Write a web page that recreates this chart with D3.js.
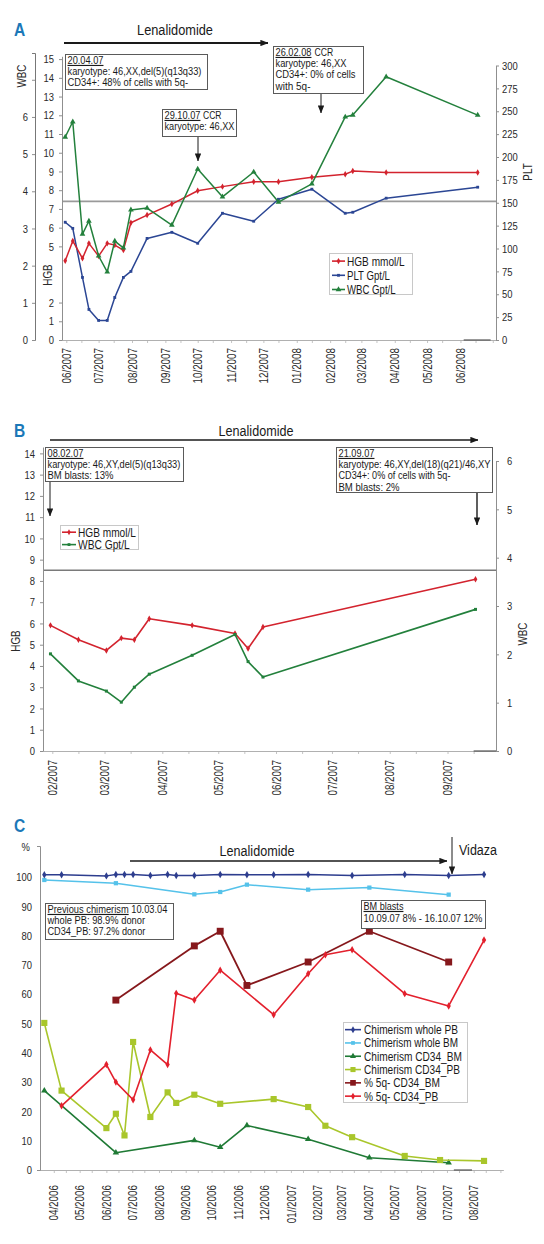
<!DOCTYPE html>
<html>
<head>
<meta charset="utf-8">
<script src="https://cdn.jsdelivr.net/npm/d3@7/dist/d3.min.js"></script>
<style>
html,body{margin:0;padding:0;background:#fff;}
text{font-family:'Liberation Sans',Arial,sans-serif;}
</style>
</head>
<body>
<svg id="chart" width="544" height="1244" xmlns="http://www.w3.org/2000/svg"></svg>
<script>
// ================= Panel A data =================
const aDates = ["2007-05-31","2007-06-07","2007-06-16","2007-06-22","2007-07-01","2007-07-09","2007-07-16","2007-07-24","2007-07-31","2007-08-15","2007-09-07","2007-10-01","2007-10-24","2007-11-22","2007-12-15","2008-01-15","2008-02-15","2008-02-22","2008-03-24","2008-06-17"];
const aHGB = [4.23,5.29,4.36,5.16,4.48,5.16,5.07,4.8,6.26,6.67,7.26,7.97,8.19,8.45,8.45,8.69,8.85,9.02,8.95,8.95];
const aPLT = [128.7,122,68.4,33.4,21.4,21.4,46.5,68.4,75,111,117.7,105.7,138.5,129.8,153.8,164.8,138.5,139.6,155,167];
const aWBC = [5.46,5.87,2.85,3.2,2.26,1.83,2.66,2.48,3.5,3.55,3.09,4.6,3.85,4.52,3.71,4.2,6.0,6.05,7.08,6.05];
const aTickDates = ["2007-06-01","2007-07-01","2007-08-01","2007-09-01","2007-10-01","2007-11-01","2007-12-01","2008-01-01","2008-02-01","2008-03-01","2008-04-01","2008-05-01","2008-06-01"];
const aTickLabels = ["06/2007","07/2007","08/2007","09/2007","10/2007","11/2007","12/2007","01/2008","02/2008","03/2008","04/2008","05/2008","06/2008"];
const aWBCTicks = [0,1,2,3,4,5,6,7];
const aWBCTickLabels = ["0","1","2","3","4","5","6",""];
const aHGBTicks = [0,1,2,5,6,7,8,9,10,11,12,13,14,15];
const aPLTTicks = [0,25,50,75,100,125,150,175,200,225,250,275,300];
const aRefPLT = 151.5;
const aSeriesNames = ["HGB mmol/L","PLT Gpt/L","WBC Gpt/L"];

// ================= Panel B data =================
const bDates = ["2007-01-31","2007-02-15","2007-03-02","2007-03-10","2007-03-17","2007-03-25","2007-04-17","2007-05-10","2007-05-17","2007-05-25","2007-09-16"];
const bHGB = [5.91,5.23,4.73,5.31,5.23,6.22,5.91,5.53,4.82,5.83,8.08];
const bWBC = [2.01,1.45,1.24,1.01,1.32,1.59,1.98,2.41,1.85,1.53,2.93];
const bTickDates = ["2007-02-01","2007-03-01","2007-04-01","2007-05-01","2007-06-01","2007-07-01","2007-08-01","2007-09-01"];
const bTickLabels = ["02/2007","03/2007","04/2007","05/2007","06/2007","07/2007","08/2007","09/2007"];
const bHGBTicks = [0,1,2,3,4,5,6,7,8,9,10,11,12,13,14];
const bWBCTicks = [0,1,2,3,4,5,6];
const bRefHGB = 8.5;
const bSeriesNames = ["HGB mmol/L","WBC Gpt/L"];

// ================= Panel C data =================
const cWholePBDates = ["2006-03-21","2006-04-10","2006-06-01","2006-06-12","2006-06-22","2006-07-02","2006-07-22","2006-08-11","2006-08-21","2006-09-11","2006-10-11","2006-11-11","2006-12-12","2007-01-21","2007-03-13","2007-05-13","2007-07-03","2007-08-13"];
const cWholePB = [100.8,100.8,100.4,100.9,100.9,100.9,100.5,100.9,100.5,100.5,100.9,100.8,100.8,100.9,100.5,100.9,100.5,100.9];
const cWholeBMDates = ["2006-03-21","2006-06-12","2006-09-11","2006-10-11","2006-11-11","2007-01-21","2007-04-02","2007-07-03"];
const cWholeBM = [99.0,97.9,94.1,94.9,97.4,95.7,96.4,94.0];
const cCD34BMDates = ["2006-03-21","2006-06-12","2006-09-11","2006-10-11","2006-11-11","2007-01-21","2007-04-02","2007-07-03"];
const cCD34BM = [27.1,5.9,10.1,7.8,15.2,10.5,4.2,2.5];
const cCD34PBDates = ["2006-03-21","2006-04-10","2006-06-01","2006-06-12","2006-06-22","2006-07-02","2006-07-22","2006-08-11","2006-08-21","2006-09-11","2006-10-11","2006-12-12","2007-01-21","2007-02-10","2007-03-13","2007-05-13","2007-06-23","2007-08-13"];
const cCD34PB = [50.2,27.1,14.3,19.2,11.8,43.7,18.1,26.5,22.9,25.7,22.6,24.2,21.5,15.1,11.2,4.8,3.4,3.1];
const c5qBMDates = ["2006-06-12","2006-09-11","2006-10-11","2006-11-11","2007-01-21","2007-04-02","2007-07-03"];
const c5qBM = [58,76.5,81.5,63,71,81.5,71];
const c5qPBDates = ["2006-04-10","2006-06-01","2006-06-12","2006-07-02","2006-07-22","2006-08-11","2006-08-21","2006-09-11","2006-10-11","2006-12-12","2007-01-21","2007-02-10","2007-03-13","2007-05-13","2007-07-03","2007-08-13"];
const c5qPB = [21.9,36,30,24,41,36,60.3,58,68.2,53,67,73.5,75.2,60.2,56,78.5];
const cTickDates = ["2006-04-01","2006-05-01","2006-06-01","2006-07-01","2006-08-01","2006-09-01","2006-10-01","2006-11-01","2006-12-01","2007-01-01","2007-02-01","2007-03-01","2007-04-01","2007-05-01","2007-06-01","2007-07-01","2007-08-01"];
const cTickLabels = ["04/2006","05/2006","06/2006","07/2006","08/2006","09/2006","10/2006","11/2006","12/2006","01//2007","02/2007","03/2007","04/2007","05/2007","06/2007","07/2007","08/2007"];
const cYTicks = [0,10,20,30,40,50,60,70,80,90,100];
const cSeriesNames = ["Chimerism whole PB","Chimerism whole BM","Chimerism CD34_BM","Chimerism CD34_PB","% 5q- CD34_BM","% 5q- CD34_PB"];

// ================= helpers =================
const SX = 0.82;               // horizontal condensing of the sans font
const AX = "#8f8f8f";
const TXT = "#2a2a2a";
const parse = d3.utcParse("%Y-%m-%d");
const svg = d3.select("#chart");

const defs = svg.append("defs");
defs.append("marker").attr("id","arr").attr("viewBox","0 0 10 8").attr("refX",9.5).attr("refY",4)
  .attr("markerWidth",8).attr("markerHeight",6.4).attr("markerUnits","userSpaceOnUse").attr("orient","auto")
  .append("path").attr("d","M0,0L10,4L0,8z").attr("fill","#1a1a1a");

function condense(sel) {
  sel.each(function () {
    const t = d3.select(this);
    const x = +t.attr("x") || 0;
    const tr = t.attr("transform") || "";
    t.attr("x", x / SX).attr("transform", (tr + ` scale(${SX},1)`).trim());
  });
}

// place a text so that its rendered width is len (true horizontal scaling of the glyphs)
function txt(parent, x, y, s, fs, anchor, rot, len) {
  const t = parent.append("text").attr("text-anchor", anchor || "start")
    .style("font-size", fs + "px").attr("fill", "#1a1a1a").text(s);
  let k = SX;
  if (len) {
    const w = t.node().getComputedTextLength();
    if (w > 0) k = len / w;
  }
  t.attr("transform", `translate(${x},${y})${rot ? " rotate(" + rot + ")" : ""} scale(${k},1)`);
  return t;
}

function styleAxis(g, fs) {
  g.attr("font-family", null).attr("font-size", null);
  g.select(".domain").attr("stroke", AX);
  g.selectAll(".tick line").attr("stroke", AX);
  g.selectAll(".tick text").attr("fill", TXT).style("font-size", fs + "px");
}

function dateAxis(x, yPos, tickDates, labels, gap, darkFrom, darkTo) {
  const [d0, d1] = x.domain();
  const minor = d3.utcDay.range(d0, d1).filter(d => d.getUTCDate() === 1 || d.getUTCDate() === 15);
  const gm = svg.append("g").attr("transform", `translate(0,${yPos})`)
    .call(d3.axisBottom(x).tickValues(minor).tickFormat("").tickSize(3).tickSizeOuter(0));
  styleAxis(gm, 12);
  gm.selectAll(".tick line").attr("stroke", "#c4c4c4");
  const g = svg.append("g").attr("transform", `translate(0,${yPos})`)
    .call(d3.axisBottom(x).tickValues(tickDates.map(parse)).tickFormat((d, i) => labels[i]).tickSize(0).tickSizeOuter(0));
  styleAxis(g, 12);
  g.select(".domain").attr("stroke", "#b0b0b0");
  g.selectAll(".tick text").attr("transform", "rotate(-90)").attr("text-anchor", "end")
    .attr("x", -gap).attr("y", 0).attr("dy", "0.35em");
  condense(g.selectAll(".tick text"));
  g.append("line").attr("x1", x(parse(darkFrom))).attr("x2", x(parse(darkTo))).attr("y1", 0).attr("y2", 0)
    .attr("stroke", "#555").attr("stroke-width", 1.2);
}

function series(x, y, dates, vals, color, sym, size, w) {
  const pts = dates.map((d, i) => [parse(d), vals[i]]);
  const g = svg.append("g");
  g.append("path").datum(pts).attr("fill", "none").attr("stroke", color).attr("stroke-width", w)
    .attr("stroke-linejoin", "round").attr("d", d3.line().x(p => x(p[0])).y(p => y(p[1])));
  g.append("g").selectAll("path").data(pts).join("path")
    .attr("transform", p => `translate(${x(p[0])},${y(p[1])})`)
    .attr("d", d3.symbol().type(sym).size(size)).attr("fill", color);
}

// lines: array of lines; each line is an array of [text, underline, width, dx]
function noteBox(x, y, w, h, lines, fs, lh) {
  const g = svg.append("g");
  g.append("rect").attr("x", x + 0.5).attr("y", y + 0.5).attr("width", w).attr("height", h)
    .attr("fill", "#fff").attr("stroke", "#5a5a5a").attr("stroke-width", 1);
  lines.forEach((ln, i) => {
    ln.forEach(([s, u, len, dx]) => {
      txt(g, x + 2.5 + dx, y + 9.8 + i * lh, s, fs, "start", 0, len)
        .style("text-decoration", u ? "underline" : "none");
    });
  });
}

function arrow(x1, y1, x2, y2, w) {
  svg.append("line").attr("x1", x1).attr("y1", y1).attr("x2", x2).attr("y2", y2)
    .attr("stroke", "#1a1a1a").attr("stroke-width", w).attr("marker-end", "url(#arr)");
}

function vlabel(x, y, s, fs) {
  txt(svg, x, y, s, fs, "middle", -90).attr("dy", "0.35em").attr("fill", TXT);
}

function panelLetter(x, y, s) {
  txt(svg, x, y, s, 19, "start").style("font-weight", "bold").attr("fill", "#1b78b8");
}

function legend(x, y, w, h, names, lens, colors, syms, sizes, fs, lh, sx1, sx2, tx) {
  const g = svg.append("g");
  g.append("rect").attr("x", x + 0.5).attr("y", y + 0.5).attr("width", w).attr("height", h)
    .attr("fill", "#fff").attr("stroke", "#c8c8c8");
  names.forEach((n, i) => {
    const yy = y + lh * 0.5 + 1 + i * lh;
    g.append("line").attr("x1", x + sx1).attr("x2", x + sx2).attr("y1", yy).attr("y2", yy)
      .attr("stroke", colors[i]).attr("stroke-width", 1.6);
    g.append("path").attr("transform", `translate(${x + (sx1 + sx2) / 2},${yy})`)
      .attr("d", d3.symbol().type(syms[i]).size(sizes[i])).attr("fill", colors[i]);
    txt(g, x + tx, yy, n, fs, "start", 0, lens[i]).attr("dy", "0.35em");
  });
}

// ================= PANEL A =================
const colHGB = "#d3232e", colPLT = "#2b4694", colWBC = "#23803c";
const xA = d3.scaleUtc().domain([parse("2007-05-28"), parse("2008-07-04")]).range([62, 496]);
const yAW = d3.scaleLinear().domain([0, 7.72]).range([340, 53]);
const yAH = d3.scaleLinear().domain([0, 15.15]).range([340, 56.3]);
const yAP = d3.scaleLinear().domain([0, 300]).range([340, 65.5]);

panelLetter(14, 36, "A");
txt(svg, 175, 35, "Lenalidomide", 15, "middle", 0, 76);
arrow(64, 43, 268, 43, 1.8);

svg.append("line").attr("x1", 62).attr("x2", 496).attr("y1", yAP(aRefPLT)).attr("y2", yAP(aRefPLT))
  .attr("stroke", "#9a9a9a").attr("stroke-width", 1.6);

dateAxis(xA, 340, aTickDates, aTickLabels, 8, "2008-06-04", "2008-06-29");

let g = svg.append("g").attr("transform", "translate(35,0)")
  .call(d3.axisLeft(yAW).tickValues(aWBCTicks).tickFormat((d, i) => aWBCTickLabels[i]).tickSize(3).tickSizeOuter(3).tickPadding(4));
styleAxis(g, 11.5); condense(g.selectAll(".tick text"));
g.select(".domain").attr("stroke", "#777");
g = svg.append("g").attr("transform", "translate(62,0)")
  .call(d3.axisLeft(yAH).tickValues(aHGBTicks).tickFormat(d3.format("d")).tickSize(3).tickSizeOuter(0).tickPadding(5));
styleAxis(g, 11.5); condense(g.selectAll(".tick text"));
g = svg.append("g").attr("transform", "translate(496,0)")
  .call(d3.axisRight(yAP).tickValues(aPLTTicks).tickFormat(d3.format("d")).tickSize(3).tickSizeOuter(0).tickPadding(3));
styleAxis(g, 11.5); condense(g.selectAll(".tick text"));

vlabel(22, 76, "WBC", 12);
vlabel(48, 275, "HGB", 12);
vlabel(528, 172, "PLT", 12);

series(xA, yAP, aDates, aPLT, colPLT, d3.symbolSquare, 8, 1.5);
series(xA, yAH, aDates, aHGB, colHGB, d3.symbolDiamond, 12, 1.5);
series(xA, yAW, aDates, aWBC, colWBC, d3.symbolTriangle, 14, 1.5);

noteBox(65, 54, 142, 35, [
  [["20.04.07", 1, 36, 0]],
  [["karyotype: 46,XX,del(5)(q13q33)", 0, 134, 0]],
  [["CD34+: 48% of cells with 5q-", 0, 120.7, 0]]], 11.3, 11.3);
noteBox(162, 109, 74, 27, [
  [["29.10.07", 1, 36, 0], ["CCR", 0, 18.5, 38.5]],
  [["karyotype: 46,XX", 0, 70, 0]]], 11.3, 11.3);
noteBox(273, 46, 90, 47, [
  [["26.02.08", 1, 36, 0], ["CCR", 0, 18.7, 39]],
  [["karyotype: 46,XX", 0, 71, 0]],
  [["CD34+: 0% of cells", 0, 80, 0]],
  [["with 5q-", 0, 35, 0]]], 11.3, 11.3);
arrow(198, 137, 198, 161, 1);
arrow(321, 94, 321, 113, 1);

legend(329, 253, 83, 41, aSeriesNames, [57.7, 43, 48.7], [colHGB, colPLT, colWBC],
  [d3.symbolDiamond, d3.symbolSquare, d3.symbolTriangle], [12, 8, 14], 12.8, 14.2, 3, 16, 18);

// ================= PANEL B =================
const xB = d3.scaleUtc().domain([parse("2007-01-27"), parse("2007-09-27")]).range([43, 496]);
const yBH = d3.scaleLinear().domain([0, 14.3]).range([751, 447]);
const yBW = d3.scaleLinear().domain([0, 6]).range([751, 461]);

panelLetter(14, 437, "B");
txt(svg, 256, 436, "Lenalidomide", 15, "middle", 0, 75);
arrow(50, 440, 478, 440, 1.5);

svg.append("line").attr("x1", 43).attr("x2", 496).attr("y1", yBH(bRefHGB)).attr("y2", yBH(bRefHGB))
  .attr("stroke", "#7a7a7a").attr("stroke-width", 1.4);

dateAxis(xB, 751, bTickDates, bTickLabels, 9, "2007-09-15", "2007-09-27");
g = svg.append("g").attr("transform", "translate(43,0)")
  .call(d3.axisLeft(yBH).tickValues(bHGBTicks).tickFormat(d3.format("d")).tickSize(3).tickSizeOuter(0).tickPadding(5));
styleAxis(g, 11.5); condense(g.selectAll(".tick text"));
g = svg.append("g").attr("transform", "translate(496,0)")
  .call(d3.axisRight(yBW).tickValues(bWBCTicks).tickFormat(d3.format("d")).tickSize(3).tickSizeOuter(0).tickPadding(8));
styleAxis(g, 11.5); condense(g.selectAll(".tick text"));
vlabel(16, 641, "HGB", 12);
vlabel(523, 634, "WBC", 12);

series(xB, yBH, bDates, bHGB, colHGB, d3.symbolDiamond, 12, 1.6);
series(xB, yBW, bDates, bWBC, colWBC, d3.symbolSquare, 9, 1.6);

noteBox(45, 447, 138, 34, [
  [["08.02.07", 1, 36, 0]],
  [["karyotype: 46,XY,del(5)(q13q33)", 0, 133, 0]],
  [["BM blasts: 13%", 0, 66, 0]]], 11.3, 11.3);
noteBox(336, 447, 156, 45, [
  [["21.09.07", 1, 36, 0]],
  [["karyotype: 46,XY,del(18)(q21)/46,XY", 0, 152, 0]],
  [["CD34+: 0% of cells with 5q-", 0, 112, 0]],
  [["BM blasts: 2%", 0, 61, 0]]], 11.3, 11.3);
arrow(50, 482, 50, 516, 1);
arrow(477, 493, 477, 525, 1.4);

legend(60, 525, 78, 24, bSeriesNames, [58, 51.7], [colHGB, colWBC], [d3.symbolDiamond, d3.symbolSquare], [10, 8], 12.8, 12.4, 2, 16, 18);

// ================= PANEL C =================
const xC = d3.scaleUtc().domain([parse("2006-03-16"), parse("2007-09-04")]).range([40, 503]);
const yC = d3.scaleLinear().domain([0, 110.6]).range([1170, 846]);
const cCols = ["#2d3d8e", "#55c2ea", "#1f7a35", "#a9c62b", "#86181c", "#e3202d"];

panelLetter(14, 832, "C");
txt(svg, 257, 856, "Lenalidomide", 15, "middle", 0, 75);
arrow(130, 861, 447, 861, 1.5);
arrow(452, 837, 452, 874, 1);
txt(svg, 459, 855, "Vidaza", 15, "start", 0, 38);

dateAxis(xC, 1170, cTickDates, cTickLabels, 15, "2007-07-09", "2007-07-30");
g = svg.append("g").attr("transform", "translate(40,0)")
  .call(d3.axisLeft(yC).tickValues(cYTicks).tickFormat(d3.format("d")).tickSize(0).tickSizeOuter(3).tickPadding(8));
styleAxis(g, 11.5); condense(g.selectAll(".tick text"));
txt(svg, 30, 851, "%", 11.5, "end").attr("fill", TXT);

series(xC, yC, cWholeBMDates, cWholeBM, cCols[1], d3.symbolSquare, 18, 1.5);
series(xC, yC, cWholePBDates, cWholePB, cCols[0], d3.symbolDiamond, 16, 1.5);
series(xC, yC, cCD34BMDates, cCD34BM, cCols[2], d3.symbolTriangle, 18, 1.6);
series(xC, yC, cCD34PBDates, cCD34PB, cCols[3], d3.symbolSquare, 38, 1.6);
series(xC, yC, c5qBMDates, c5qBM, cCols[4], d3.symbolSquare, 48, 1.8);
series(xC, yC, c5qPBDates, c5qPB, cCols[5], d3.symbolDiamond, 16, 1.6);

noteBox(45, 903, 128, 36, [
  [["Previous chimerism", 1, 81.2, 0], ["10.03.04", 0, 36.2, 83.8]],
  [["whole PB: 98.9% donor", 0, 97.7, 0]],
  [["CD34_PB: 97.2% donor", 0, 98, 0]]], 11.5, 11.3);
noteBox(361, 900, 124, 28, [
  [["BM blasts", 1, 40, 0]],
  [["10.09.07 8% - 16.10.07 12%", 0, 119, 0]]], 11.5, 12);

legend(343, 1022, 124, 80, cSeriesNames, [94, 94, 98, 96, 76, 74.3], cCols,
  [d3.symbolDiamond, d3.symbolSquare, d3.symbolTriangle, d3.symbolSquare, d3.symbolSquare, d3.symbolDiamond],
  [14, 14, 16, 26, 32, 14], 12.6, 13.3, 2, 18, 21);
</script>
</body>
</html>
